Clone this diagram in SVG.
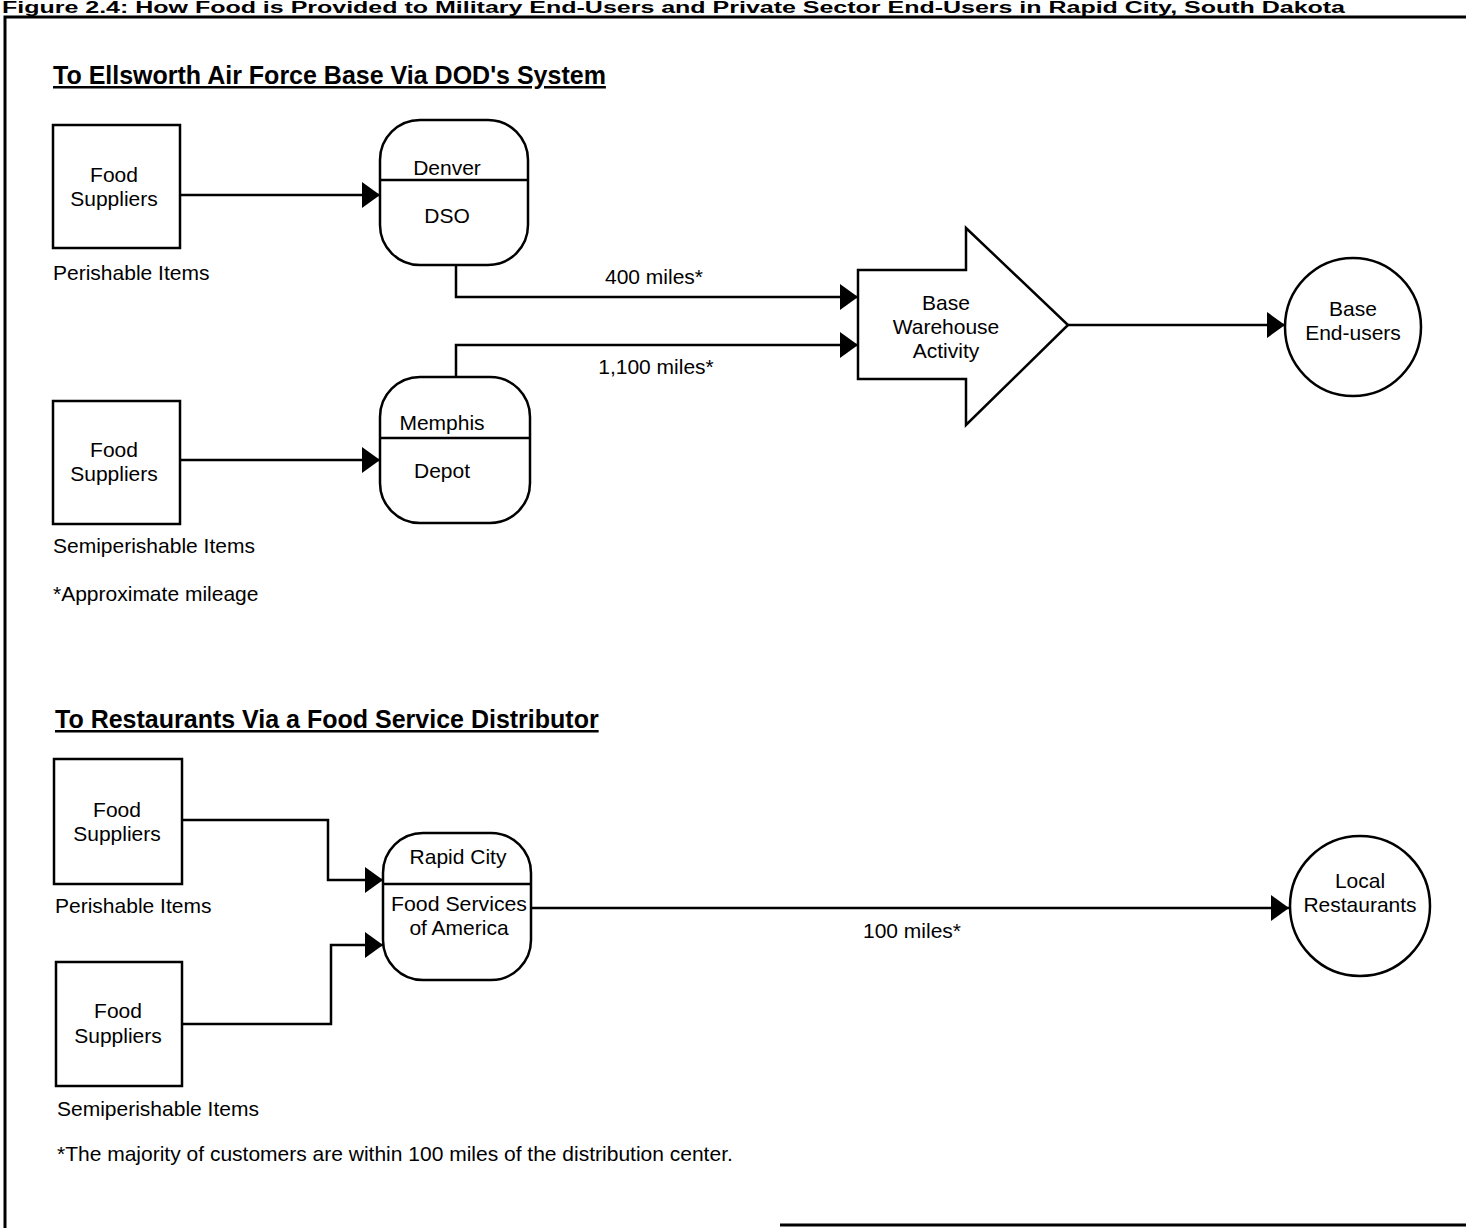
<svg xmlns="http://www.w3.org/2000/svg" width="1466" height="1228" viewBox="0 0 1466 1228">
<defs>
<style>
.t{font-family:"Liberation Sans",Arial,sans-serif;font-size:21px;fill:#000}
.c{text-anchor:middle}
.h{font-family:"Liberation Sans",Arial,sans-serif;font-size:25px;font-weight:bold;text-decoration:underline;fill:#000}
.s{fill:#fff;stroke:#000;stroke-width:2.5}
.ln{fill:none;stroke:#000;stroke-width:2.5}
</style>
<marker id="ah" viewBox="0 0 18 26" refX="18" refY="13" markerWidth="18" markerHeight="26" markerUnits="userSpaceOnUse" orient="auto">
<path d="M0,0 L18,13 L0,26 Z" fill="#000"/>
</marker>
</defs>
<rect width="1466" height="1228" fill="#fff"/>
<text x="2" y="13" font-family="'Liberation Sans',Arial,sans-serif" font-size="16" font-weight="bold" textLength="1343" lengthAdjust="spacingAndGlyphs">Figure 2.4: How Food is Provided to Military End-Users and Private Sector End-Users in Rapid City, South Dakota</text>
<path d="M1466,17 L5,17 L5,1228" fill="none" stroke="#000" stroke-width="3"/>
<path d="M780,1225 L1466,1225" fill="none" stroke="#000" stroke-width="3"/>

<text class="h" x="53" y="84">To Ellsworth Air Force Base Via DOD's System</text>
<text class="h" x="55" y="728">To Restaurants Via a Food Service Distributor</text>

<g id="connectors">
<path class="ln" d="M180,195 L380,195" marker-end="url(#ah)"/>
<path class="ln" d="M180,460 L380,460" marker-end="url(#ah)"/>
<path class="ln" d="M456,265 L456,297 L858,297" marker-end="url(#ah)"/>
<path class="ln" d="M456,377 L456,345 L858,345" marker-end="url(#ah)"/>
<path class="ln" d="M1068,325 L1285,325" marker-end="url(#ah)"/>
<path class="ln" d="M182,820 L328,820 L328,880 L383,880" marker-end="url(#ah)"/>
<path class="ln" d="M182,1024 L331,1024 L331,945 L383,945" marker-end="url(#ah)"/>
<path class="ln" d="M531,908 L1289,908" marker-end="url(#ah)"/>
<text class="t c" x="654" y="284">400 miles*</text>
<text class="t c" x="656" y="374">1,100 miles*</text>
<text class="t c" x="912" y="938">100 miles*</text>
</g>

<g id="suppliers1">
<rect class="s" x="53" y="125" width="127" height="123"/>
<text class="t c" x="114" y="182">Food</text>
<text class="t c" x="114" y="206">Suppliers</text>
<text class="t" x="53" y="280">Perishable Items</text>
</g>

<g id="suppliers2">
<rect class="s" x="53" y="401" width="127" height="123"/>
<text class="t c" x="114" y="457">Food</text>
<text class="t c" x="114" y="481">Suppliers</text>
<text class="t" x="53" y="553">Semiperishable Items</text>
<text class="t" x="53" y="601">*Approximate mileage</text>
</g>

<g id="denver">
<rect class="s" x="380" y="120" width="148" height="145" rx="40"/>
<line class="ln" x1="380" y1="180" x2="528" y2="180"/>
<text class="t c" x="447" y="175">Denver</text>
<text class="t c" x="447" y="223">DSO</text>
</g>

<g id="memphis">
<rect class="s" x="380" y="377" width="150" height="146" rx="40"/>
<line class="ln" x1="380" y1="438" x2="530" y2="438"/>
<text class="t c" x="442" y="430">Memphis</text>
<text class="t c" x="442" y="478">Depot</text>
</g>

<g id="warehouse">
<polygon class="s" points="858,270 966,270 966,228 1068,325 966,425 966,379 858,379"/>
<text class="t c" x="946" y="310">Base</text>
<text class="t c" x="946" y="334">Warehouse</text>
<text class="t c" x="946" y="358">Activity</text>
</g>

<g id="endusers">
<ellipse class="s" cx="1353" cy="327" rx="68" ry="69"/>
<text class="t c" x="1353" y="316">Base</text>
<text class="t c" x="1353" y="340">End-users</text>
</g>

<g id="suppliers3">
<rect class="s" x="54" y="759" width="128" height="125"/>
<text class="t c" x="117" y="817">Food</text>
<text class="t c" x="117" y="841">Suppliers</text>
<text class="t" x="55" y="913">Perishable Items</text>
</g>

<g id="suppliers4">
<rect class="s" x="56" y="962" width="126" height="124"/>
<text class="t c" x="118" y="1018">Food</text>
<text class="t c" x="118" y="1043">Suppliers</text>
<text class="t" x="57" y="1116">Semiperishable Items</text>
</g>

<g id="rapidcity">
<rect class="s" x="383" y="833" width="148" height="147" rx="40"/>
<line class="ln" x1="383" y1="884" x2="531" y2="884"/>
<text class="t c" x="458" y="864">Rapid City</text>
<text class="t c" x="459" y="911" textLength="136" lengthAdjust="spacingAndGlyphs">Food Services</text>
<text class="t c" x="459" y="935">of America</text>
</g>

<g id="restaurants">
<ellipse class="s" cx="1360" cy="906" rx="70" ry="70"/>
<text class="t c" x="1360" y="888">Local</text>
<text class="t c" x="1360" y="912">Restaurants</text>
</g>

<text class="t" x="57" y="1161">*The majority of customers are within 100 miles of the distribution center.</text>
</svg>
